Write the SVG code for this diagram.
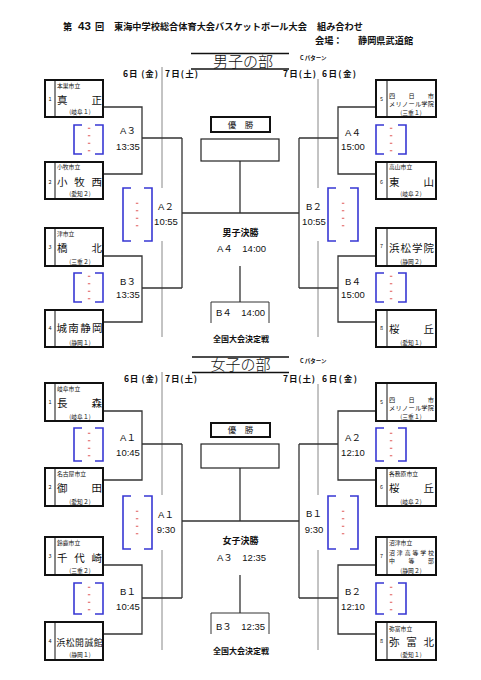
<svg xmlns="http://www.w3.org/2000/svg" width="481" height="680" viewBox="0 0 481 680">
<defs><style>
text{font-family:"Noto Sans CJK JP",sans-serif;fill:#111}
.hd{font-size:9.2px;font-weight:bold}
.ttl{font-size:15px;font-weight:300;text-anchor:middle}
.pat{font-size:5.5px;font-weight:bold}
.dt{font-size:8.5px;font-weight:bold}
.sm{font-size:5.8px}
.nm{font-size:10.5px}
.ns{font-size:6.2px}
.num{font-size:5.5px;text-anchor:middle}
.pf{font-size:5.8px;text-anchor:middle}
.tm{font-family:"Liberation Sans","Noto Sans CJK JP",sans-serif;font-size:9.5px;text-anchor:middle}
.tl{font-family:"Liberation Sans","Noto Sans CJK JP",sans-serif;font-size:9.5px}
.fin{font-size:9px;font-weight:bold;text-anchor:middle}
.nat{font-size:8px;font-weight:bold;text-anchor:middle}
.yu{font-size:8.5px;text-anchor:middle}
.box{fill:#fff;stroke:#111;stroke-width:2}
.wbox{fill:#fff;stroke:#222;stroke-width:1.2}
.dv{stroke:#111;stroke-width:1}
.con{fill:none;stroke:#333;stroke-width:1.3}
.thin{fill:none;stroke:#333;stroke-width:1}
.gr{stroke:#888;stroke-width:1}
.bl{fill:none;stroke:#3737d4;stroke-width:1.6}
.rd{fill:none;stroke:#e05a5a;stroke-width:1}
.tline{stroke:#111;stroke-width:1.5}
</style></defs>
<rect width="481" height="680" fill="#fff"/>

<g id="header">
<text class="hd" y="29.5"><tspan x="63">第</tspan><tspan x="78" font-size="11.5" font-family="Liberation Sans, sans-serif">43</tspan><tspan x="95">回</tspan><tspan x="114">東海中学校総合体育大会バスケットボール大会</tspan><tspan x="317">組み合わせ</tspan></text>
<text class="hd" y="43.5"><tspan x="315">会場：</tspan><tspan x="358">静岡県武道館</tspan></text>
</g>

<!-- ===== BOYS ===== -->
<g id="boys-title">
<line class="tline" x1="191" y1="53.5" x2="289" y2="53.5"/>
<line class="tline" x1="191" y1="69" x2="289" y2="69" stroke-width="1.8"/>
<text class="ttl" x="243" y="66.5">男子の部</text>
<text class="pat" x="300" y="60">C パターン</text>
<text class="dt" x="123" y="76.5" textLength="35">6日 (金)</text>
<text class="dt" x="165" y="76.5" textLength="33">7日(土)</text>
<text class="dt" x="283" y="76.5" textLength="33">7日(土)</text>
<text class="dt" x="322" y="76.5" textLength="34">6日(金)</text>
</g>

<g id="boys-connectors">
<path class="gr" d="M162,67V188M162,241V337M318,79V188M318,241V337"/>
<path class="con" d="M103,107H142V174H103M142,138H182M103,256H142V322H103M142,288H182M182,138V288M182,213H299"/>
<path class="con" d="M376,107H338V174H376M338,138H299M376,256H338V322H376M338,288H299M299,138V288"/>
<path class="con" d="M240,161V213M240,266V302"/>
<path class="thin" d="M211,323V302H269V323"/>
<path class="bl" d="M82,125H74V154H82M95,125H103V154H95M82,273H74V302H82M95,273H103V302H95M131,188H123V241H131M144,188H152V241H144M384,125H376V154H384M398,125H406V154H398M384,273H376V302H384M398,273H406V302H398M336,188H328V241H336M350,188H358V241H350"/>
<path class="rd" d="M87.8,128.25h2.5M87.8,135.75h2.5M87.8,143.25h2.5M87.8,150.75h2.5M87.8,276.25h2.5M87.8,283.75h2.5M87.8,291.25h2.5M87.8,298.75h2.5M135.8,203.25h2.5M135.8,210.75h2.5M135.8,218.25h2.5M135.8,225.75h2.5M389.8,128.25h2.5M389.8,135.75h2.5M389.8,143.25h2.5M389.8,150.75h2.5M389.8,276.25h2.5M389.8,283.75h2.5M389.8,291.25h2.5M389.8,298.75h2.5M341.8,203.25h2.5M341.8,210.75h2.5M341.8,218.25h2.5M341.8,225.75h2.5"/>
<text class="tm" x="128" y="133.5">A３</text><text class="tm" x="128" y="149.5">13:35</text>
<text class="tm" x="166" y="209.5">A２</text><text class="tm" x="166" y="224.5">10:55</text>
<text class="tm" x="128" y="284.5">B３</text><text class="tm" x="128" y="297.5">13:35</text>
<text class="tm" x="353" y="135.5">A４</text><text class="tm" x="353" y="149.5">15:00</text>
<text class="tm" x="314" y="209.5">B２</text><text class="tm" x="314" y="224.5">10:55</text>
<text class="tm" x="353" y="284.5">B４</text><text class="tm" x="353" y="297.5">15:00</text>
</g>

<g id="boys-champion">
<rect class="box" x="211" y="117" width="59" height="15"/>
<text class="yu" x="240.5" y="128.3">優　勝</text>
<rect class="wbox" x="201" y="139" width="78" height="22"/>
</g>
<g id="boys-final">
<text class="fin" x="240.5" y="235.5">男子決勝</text>
<text class="tl" x="217" y="251.5">A４　14:00</text>
</g>
<g id="boys-national">
<text class="tl" x="216" y="315.5">B４　14:00</text>
<text class="nat" x="241" y="342">全国大会決定戦</text>
</g>

<g id="b1">
<rect class="box" x="45" y="80" width="58" height="37"/><line class="dv" x1="55" y1="80" x2="55" y2="117"/>
<text class="num" x="50" y="101">1</text>
<text class="sm" x="57" y="87.5">本巣市立</text>
<text class="nm" x="57" y="104" textLength="45">真　　正</text>
<text class="pf" x="80" y="113.5">(岐阜１)</text>
</g>
<g id="b2">
<rect class="box" x="45" y="162" width="58" height="37"/><line class="dv" x1="55" y1="162" x2="55" y2="199"/>
<text class="num" x="50" y="184">2</text>
<text class="sm" x="57" y="168.5">小牧市立</text>
<text class="nm" x="57" y="186" textLength="45">小　牧　西</text>
<text class="pf" x="80" y="195.5">(愛知２)</text>
</g>
<g id="b3">
<rect class="box" x="45" y="228" width="58" height="38"/><line class="dv" x1="55" y1="228" x2="55" y2="266"/>
<text class="num" x="50" y="249">3</text>
<text class="sm" x="57" y="236">津市立</text>
<text class="nm" x="57" y="252" textLength="45">橋　　北</text>
<text class="pf" x="80" y="263.5">(三重２)</text>
</g>
<g id="b4">
<rect class="box" x="45" y="310" width="58" height="37"/><line class="dv" x1="55" y1="310" x2="55" y2="347"/>
<text class="num" x="50" y="330">4</text>
<text class="nm" x="56.5" y="332" textLength="46">城南静岡</text>
<text class="pf" x="80" y="344.5">(静岡１)</text>
</g>
<g id="b5">
<rect class="box" x="376" y="80" width="60" height="37"/><line class="dv" x1="387" y1="80" x2="387" y2="117"/>
<text class="num" x="381.5" y="101">5</text>
<text class="ns" x="389" y="98.3" textLength="45">四　日　市</text>
<text class="ns" x="389" y="106" textLength="45">メリノール学院</text>
<text class="pf" x="411" y="114.5">(三重１)</text>
</g>
<g id="b6">
<rect class="box" x="376" y="162" width="60" height="37"/><line class="dv" x1="387" y1="162" x2="387" y2="199"/>
<text class="num" x="381.5" y="184">6</text>
<text class="sm" x="389" y="169">高山市立</text>
<text class="nm" x="389" y="186" textLength="45">東　　山</text>
<text class="pf" x="411" y="195.5">(岐阜２)</text>
</g>
<g id="b7">
<rect class="box" x="376" y="228" width="60" height="38"/><line class="dv" x1="387" y1="228" x2="387" y2="266"/>
<text class="num" x="381.5" y="248">7</text>
<text class="nm" x="389" y="252" textLength="45">浜松学院</text>
<text class="pf" x="411" y="263.5">(静岡２)</text>
</g>
<g id="b8">
<rect class="box" x="376" y="310" width="60" height="37"/><line class="dv" x1="387" y1="310" x2="387" y2="347"/>
<text class="num" x="381.5" y="330">8</text>
<text class="nm" x="389" y="333" textLength="45">桜　　丘</text>
<text class="pf" x="411" y="344.5">(愛知１)</text>
</g>

<!-- ===== GIRLS ===== -->
<g id="girls-title">
<line class="tline" x1="192" y1="357" x2="289" y2="357"/>
<line class="tline" x1="192" y1="372.5" x2="289" y2="372.5" stroke-width="1.8"/>
<text class="ttl" x="240.5" y="370">女子の部</text>
<text class="pat" x="300" y="363">C パターン</text>
<text class="dt" x="124" y="382" textLength="34">6日 (金)</text>
<text class="dt" x="165" y="382" textLength="32">7日(土)</text>
<text class="dt" x="283" y="382" textLength="32">7日(土)</text>
<text class="dt" x="322" y="382" textLength="35">6日(金)</text>
</g>

<g id="girls-connectors">
<path class="gr" d="M162,372V495M162,550V650M318,384V495M318,550V650"/>
<path class="con" d="M103,411H142V480H103M142,444H182M103,565H142V634H103M142,598H182M182,444V598M182,521H299"/>
<path class="con" d="M376,411H338V480H376M338,444H299M376,565H338V634H376M338,598H299M299,444V598"/>
<path class="con" d="M240,468V521M240,575V613"/>
<path class="thin" d="M211,634V613H269V634"/>
<path class="bl" d="M82,428H74V461H82M95,428H103V461H95M82,583H74V614H82M95,583H103V614H95M131,496H123V549H131M144,496H152V549H144M384,428H376V461H384M398,428H406V461H398M384,583H376V614H384M398,583H406V614H398M336,496H328V549H336M350,496H358V549H350"/>
<path class="rd" d="M87.8,433.25h2.5M87.8,440.75h2.5M87.8,448.25h2.5M87.8,455.75h2.5M87.8,587.25h2.5M87.8,594.75h2.5M87.8,602.25h2.5M87.8,609.75h2.5M135.8,511.25h2.5M135.8,518.75h2.5M135.8,526.25h2.5M135.8,533.75h2.5M389.8,433.25h2.5M389.8,440.75h2.5M389.8,448.25h2.5M389.8,455.75h2.5M389.8,587.25h2.5M389.8,594.75h2.5M389.8,602.25h2.5M389.8,609.75h2.5M341.8,511.25h2.5M341.8,518.75h2.5M341.8,526.25h2.5M341.8,533.75h2.5"/>
<text class="tm" x="128" y="440.5">A１</text><text class="tm" x="128" y="455.5">10:45</text>
<text class="tm" x="166" y="517.5">A１</text><text class="tm" x="166" y="532.5">9:30</text>
<text class="tm" x="128" y="594.5">B１</text><text class="tm" x="128" y="609.5">10:45</text>
<text class="tm" x="353" y="440.5">A２</text><text class="tm" x="353" y="455.5">12:10</text>
<text class="tm" x="314" y="516.5">B１</text><text class="tm" x="314" y="532.5">9:30</text>
<text class="tm" x="353" y="594.5">B２</text><text class="tm" x="353" y="609.5">12:10</text>
</g>

<g id="girls-champion">
<rect class="box" x="211" y="423" width="59" height="14"/>
<text class="yu" x="240.5" y="433.3">優　勝</text>
<rect class="wbox" x="201" y="444" width="78" height="24"/>
</g>
<g id="girls-final">
<text class="fin" x="240.5" y="543.5">女子決勝</text>
<text class="tl" x="217" y="560.5">A３　12:35</text>
</g>
<g id="girls-national">
<text class="tl" x="216" y="629.5">B３　12:35</text>
<text class="nat" x="241" y="654">全国大会決定戦</text>
</g>

<g id="g1">
<rect class="box" x="45" y="383" width="58" height="38"/><line class="dv" x1="55" y1="383" x2="55" y2="421"/>
<text class="num" x="50" y="404">1</text>
<text class="sm" x="57" y="390.5">岐阜市立</text>
<text class="nm" x="57" y="407" textLength="45">長　　森</text>
<text class="pf" x="80" y="418.5">(岐阜１)</text>
</g>
<g id="g2">
<rect class="box" x="45" y="468" width="58" height="38"/><line class="dv" x1="55" y1="468" x2="55" y2="506"/>
<text class="num" x="50" y="489">2</text>
<text class="sm" x="57" y="475.5">名古屋市立</text>
<text class="nm" x="57" y="492" textLength="45">御　　田</text>
<text class="pf" x="80" y="503.5">(愛知２)</text>
</g>
<g id="g3">
<rect class="box" x="45" y="537" width="58" height="38"/><line class="dv" x1="55" y1="537" x2="55" y2="575"/>
<text class="num" x="50" y="558">3</text>
<text class="sm" x="57" y="545">鈴鹿市立</text>
<text class="nm" x="57" y="562" textLength="45">千　代　崎</text>
<text class="pf" x="80" y="572.5">(三重２)</text>
</g>
<g id="g4">
<rect class="box" x="45" y="622" width="58" height="38"/><line class="dv" x1="55" y1="622" x2="55" y2="660"/>
<text class="num" x="50" y="643">4</text>
<text x="56.5" y="645.5" font-size="8.8" textLength="46">浜松開誠館</text>
<text class="pf" x="80" y="656.5">(静岡１)</text>
</g>
<g id="g5">
<rect class="box" x="376" y="383" width="60" height="38"/><line class="dv" x1="387" y1="383" x2="387" y2="421"/>
<text class="num" x="381.5" y="404">5</text>
<text class="ns" x="389" y="402.3" textLength="45">四　日　市</text>
<text class="ns" x="389" y="410" textLength="45">メリノール学院</text>
<text class="pf" x="411" y="418.5">(三重１)</text>
</g>
<g id="g6">
<rect class="box" x="376" y="468" width="60" height="38"/><line class="dv" x1="387" y1="468" x2="387" y2="506"/>
<text class="num" x="381.5" y="489">6</text>
<text class="sm" x="389" y="475.5">各務原市立</text>
<text class="nm" x="389" y="492" textLength="45">桜　　丘</text>
<text class="pf" x="411" y="503.5">(岐阜２)</text>
</g>
<g id="g7">
<rect class="box" x="376" y="537" width="60" height="38"/><line class="dv" x1="387" y1="537" x2="387" y2="575"/>
<text class="num" x="381.5" y="558">7</text>
<text class="sm" x="389" y="544.5">沼津市立</text>
<text x="389" y="554.6" font-size="5.9" textLength="45">沼津高等学校</text>
<text x="389" y="562.6" font-size="5.9" textLength="45">中　等　部</text>
<text class="pf" x="411" y="572.8">(静岡２)</text>
</g>
<g id="g8">
<rect class="box" x="376" y="622" width="60" height="38"/><line class="dv" x1="387" y1="622" x2="387" y2="660"/>
<text class="num" x="381.5" y="643">8</text>
<text class="sm" x="389" y="630.5">弥富市立</text>
<text class="nm" x="389" y="646" textLength="45">弥　富　北</text>
<text class="pf" x="411" y="656.5">(愛知１)</text>
</g>
</svg>
